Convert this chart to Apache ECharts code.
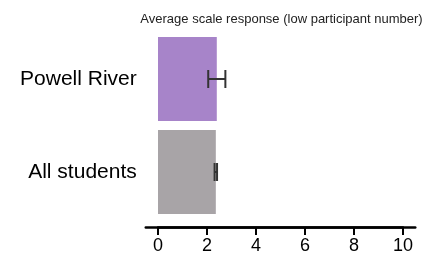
<!DOCTYPE html>
<html>
<head>
<meta charset="utf-8">
<script src="https://cdn.jsdelivr.net/npm/echarts@6/dist/echarts.min.js"></script>
<style>html,body{margin:0;padding:0;background:#fff}#c{width:437px;height:255px}</style>
</head>
<body>
<div id="c"></div>
<script>
const categories = ['Powell River', 'All students'];
const means = [2.4, 2.36];
const errors = [0.35, 0.05];
const barColors = ['#a784c9', '#a8a4a7'];
const tickValues = [0, 2, 4, 6, 8, 10];
const titleText = 'Average scale response (low participant number)';

const chart = echarts.init(document.getElementById('c'), null, {renderer: 'canvas'});
const errData = categories.map((c, i) => [i, means[i] - errors[i], means[i] + errors[i]]);
const font = 'Liberation Sans, Arial, sans-serif';

chart.setOption({
  animation: false,
  title: {
    text: titleText,
    left: 276.5, top: 8, textAlign: 'center',
    textStyle: {fontFamily: font, fontSize: 13, fontWeight: 'normal', color: '#222'}
  },
  grid: [
    {left: 145.75, right: 21.75, top: 32.5, bottom: 36.5, containLabel: false},
    {left: 145.75, right: 21.75, top: 32.5, bottom: 27.5, containLabel: false},
    {left: 158, right: 34, top: 32.5, bottom: 27.5, containLabel: false}
  ],
  xAxis: [
    {
      gridIndex: 0, type: 'value', min: -0.5, max: 10.5, show: false,
      splitLine: {show: false}
    },
    {
      gridIndex: 1, type: 'value', min: -0.5, max: 10.5,
      splitLine: {show: false},
      axisLine: {show: true, lineStyle: {color: '#000', width: 2.5}},
      axisTick: {show: false},
      axisLabel: {show: false}
    },
    {
      gridIndex: 2, type: 'value', min: tickValues[0], max: tickValues[tickValues.length - 1], interval: 2,
      splitLine: {show: false},
      axisLine: {show: true, lineStyle: {color: '#000', width: 2.5}},
      axisTick: {show: true, inside: false, length: 8, lineStyle: {color: '#000', width: 2}},
      axisLabel: {fontSize: 18, color: '#000', margin: 10, fontFamily: font}
    }
  ],
  yAxis: [
    {
      gridIndex: 0, type: 'category', data: categories, inverse: true,
      axisLine: {show: false}, axisTick: {show: false},
      axisLabel: {fontSize: 21, color: '#000', margin: 9, fontFamily: font}
    },
    {gridIndex: 1, type: 'category', data: categories, inverse: true, show: false},
    {gridIndex: 2, type: 'category', data: categories, inverse: true, show: false}
  ],
  series: [
    {
      type: 'bar', barWidth: 84, xAxisIndex: 0, yAxisIndex: 0,
      data: means.map((v, i) => ({value: v, itemStyle: {color: barColors[i]}})),
      itemStyle: {borderWidth: 0}
    },
    {
      type: 'custom', xAxisIndex: 0, yAxisIndex: 0,
      data: errData,
      z: 10,
      renderItem: function (params, api) {
        const y = api.value(0);
        const lo = api.coord([api.value(1), y]);
        const hi = api.coord([api.value(2), y]);
        const h = 9;
        const st = {stroke: '#333', lineWidth: 2};
        return {
          type: 'group',
          children: [
            {type: 'line', shape: {x1: lo[0], y1: lo[1], x2: hi[0], y2: hi[1]}, style: st},
            {type: 'line', shape: {x1: lo[0], y1: lo[1] - h, x2: lo[0], y2: lo[1] + h}, style: st},
            {type: 'line', shape: {x1: hi[0], y1: hi[1] - h, x2: hi[0], y2: hi[1] + h}, style: st}
          ]
        };
      }
    }
  ]
});
</script>
</body>
</html>
